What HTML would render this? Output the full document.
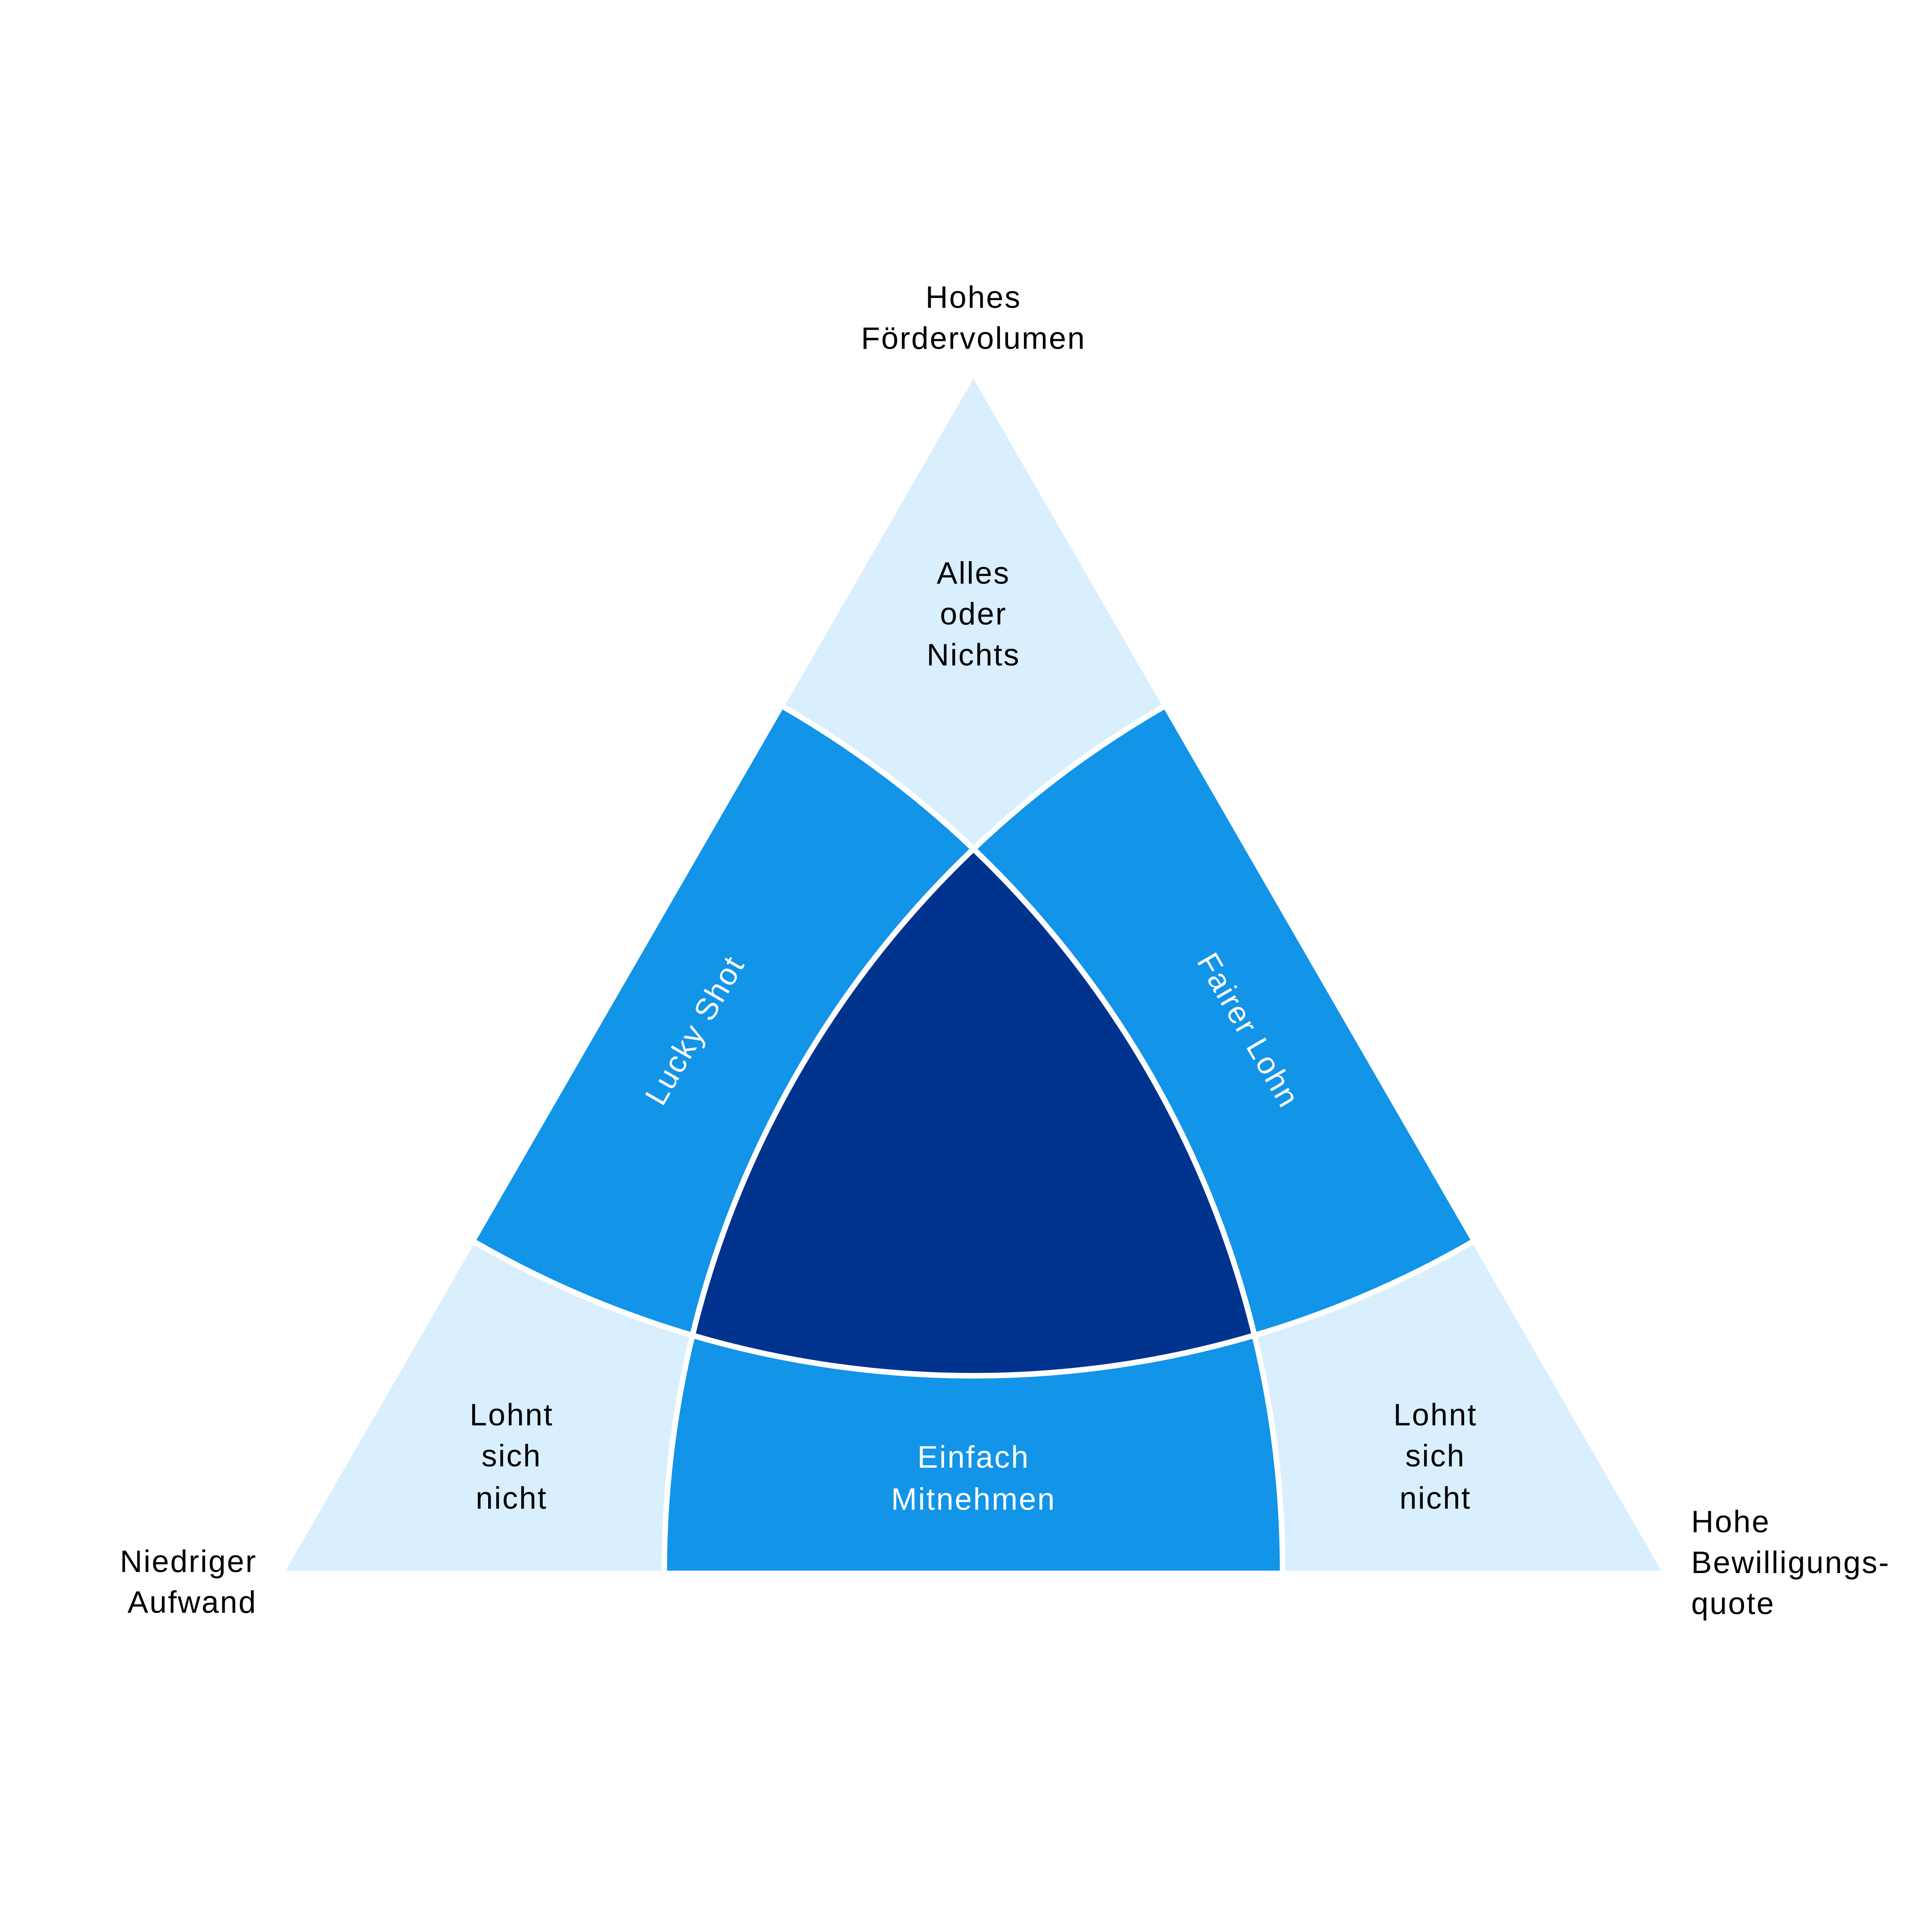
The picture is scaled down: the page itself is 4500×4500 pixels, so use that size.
<!DOCTYPE html>
<html><head><meta charset="utf-8"><style>html,body{margin:0;padding:0;background:#fff;width:4500px;height:4500px;overflow:hidden}svg{display:block}</style></head>
<body>
<svg xmlns="http://www.w3.org/2000/svg" width="4500" height="4500" viewBox="0 0 1556 1556">
<defs>
<clipPath id="tri"><polygon points="784,305 230,1265 1338,1265"/></clipPath>
<clipPath id="cA"><circle cx="784" cy="305" r="803"/></clipPath>
<clipPath id="cL"><circle cx="230" cy="1265" r="803"/></clipPath>
<clipPath id="cR"><circle cx="1338" cy="1265" r="803"/></clipPath>
</defs>
<polygon points="784,305 230,1265 1338,1265" fill="#d9effd"/>
<g clip-path="url(#tri)">
  <g clip-path="url(#cA)"><circle cx="230" cy="1265" r="803" fill="#1294e8"/><circle cx="1338" cy="1265" r="803" fill="#1294e8"/></g>
  <g clip-path="url(#cL)"><circle cx="1338" cy="1265" r="803" fill="#1294e8"/></g>
  <g clip-path="url(#cA)"><g clip-path="url(#cL)"><circle cx="1338" cy="1265" r="803" fill="#00338e"/></g></g>
  <g fill="none" stroke="#fff" stroke-width="4.5">
    <circle cx="784" cy="305" r="803"/>
    <circle cx="230" cy="1265" r="803"/>
    <circle cx="1338" cy="1265" r="803"/>
  </g>
</g>
<g font-family="Liberation Sans, sans-serif" font-size="25" letter-spacing="1" text-anchor="middle" fill="#000">
  <text x="784" y="248">Hohes</text>
  <text x="784" y="281">Fördervolumen</text>
  <text x="784" y="470">Alles</text>
  <text x="784" y="503">oder</text>
  <text x="784" y="536">Nichts</text>
  <text x="412" y="1148">Lohnt</text>
  <text x="412" y="1181">sich</text>
  <text x="412" y="1215">nicht</text>
  <text x="1156" y="1148">Lohnt</text>
  <text x="1156" y="1181">sich</text>
  <text x="1156" y="1215">nicht</text>
  <text x="784" y="1182" fill="#fff">Einfach</text>
  <text x="784" y="1216" fill="#fff">Mitnehmen</text>
  <text x="207" y="1266" text-anchor="end">Niedriger</text>
  <text x="207" y="1299" text-anchor="end">Aufwand</text>
  <text x="1362" y="1234" text-anchor="start">Hohe</text>
  <text x="1362" y="1267" text-anchor="start">Bewilligungs-</text>
  <text x="1362" y="1300" text-anchor="start">quote</text>
  <text transform="translate(560,830) rotate(-60)" y="8" fill="#fff">Lucky Shot</text>
  <text transform="translate(1005,830) rotate(60)" y="8" fill="#fff">Fairer Lohn</text>
</g>
</svg>
</body></html>
